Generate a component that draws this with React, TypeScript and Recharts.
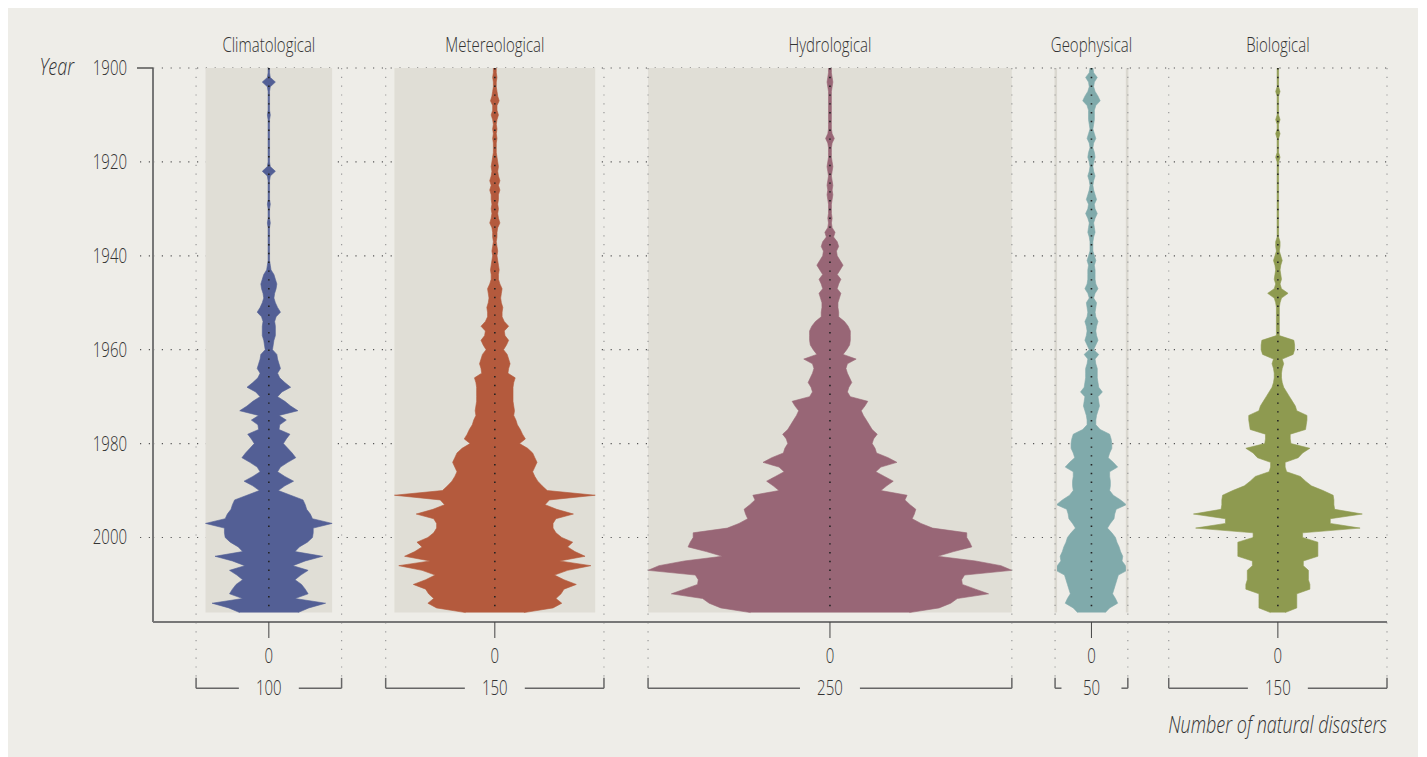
import React from 'react';
import {
    ComposedChart,
    Area,
    XAxis,
    YAxis,
    CartesianGrid,
    ReferenceLine,
    ReferenceArea,
} from 'recharts';

// number of natural disasters per year, 1900 onwards
const FIRST_YEAR = 1900;

const climatological = [
    1, 1, 2, 9, 2, 1, 1, 1, 1, 1,
    2, 1, 1, 1, 1, 1, 1, 1, 1, 1,
    1, 2, 9, 2, 1, 1, 1, 1, 1, 2,
    1, 1, 1, 2, 1, 1, 1, 1, 1, 1,
    1, 1, 2, 3, 7, 9, 11, 10, 8, 7,
    9, 12, 16, 10, 8, 9, 9, 9, 7, 6,
    5, 11, 12, 14, 16, 12, 15, 22, 30, 18,
    12, 22, 30, 40, 14, 24, 15, 14, 29, 24,
    20, 26, 32, 37, 26, 16, 12, 22, 34, 22,
    13, 30, 47, 50, 52, 57, 60, 87, 61, 61,
    60, 53, 42, 36, 74, 50, 33, 54, 44, 36,
    45, 50, 54, 36, 78, 55, 40,
];

const meteorological = [
    2, 2, 3, 2, 2, 3, 4, 6, 3, 3,
    5, 3, 2, 3, 2, 3, 2, 2, 2, 3,
    4, 5, 4, 5, 7, 5, 7, 5, 5, 4,
    5, 4, 5, 7, 4, 3, 3, 2, 3, 4,
    3, 4, 5, 6, 5, 5, 7, 10, 9, 8,
    9, 11, 10, 10, 13, 19, 13, 14, 19, 16,
    12, 17, 19, 21, 19, 18, 28, 26, 25, 25,
    25, 25, 26, 27, 26, 29, 31, 35, 38, 42,
    34, 45, 52, 55, 58, 55, 52, 55, 59, 65,
    72, 138, 75, 69, 85, 108, 84, 80, 80, 84,
    92, 107, 100, 110, 124, 89, 132, 100, 82, 95,
    112, 95, 91, 84, 92, 80, 40,
];

const hydrological = [
    2, 2, 3, 4, 3, 2, 2, 2, 2, 2,
    2, 2, 2, 2, 3, 6, 3, 2, 2, 2,
    3, 4, 3, 2, 3, 4, 3, 4, 3, 2,
    2, 2, 3, 2, 3, 7, 5, 10, 12, 9,
    10, 14, 18, 14, 10, 15, 12, 10, 15, 13,
    11, 11, 12, 12, 20, 25, 28, 28, 28, 27,
    23, 18, 36, 24, 22, 24, 27, 30, 26, 24,
    28, 52, 48, 43, 46, 50, 54, 58, 65, 60,
    58, 62, 64, 80, 92, 70, 63, 75, 87, 78,
    70, 106, 103, 110, 118, 116, 113, 125, 141, 188,
    188, 192, 195, 170, 148, 200, 235, 250, 185, 181,
    182, 200, 218, 175, 166, 150, 109,
];

const geophysical = [
    2, 3, 8, 4, 3, 5, 9, 12, 6, 4,
    4, 4, 3, 2, 4, 6, 3, 2, 4, 5,
    3, 2, 3, 5, 3, 2, 3, 5, 7, 4,
    5, 8, 5, 3, 4, 5, 3, 2, 2, 2,
    4, 6, 4, 5, 5, 5, 6, 9, 5, 3,
    7, 6, 5, 6, 9, 7, 6, 7, 9, 6,
    3, 10, 5, 6, 8, 8, 8, 9, 10, 15,
    9, 10, 11, 9, 7, 6, 6, 12, 25, 27,
    28, 28, 25, 23, 30, 36, 25, 25, 26, 26,
    25, 30, 40, 48, 34, 32, 31, 26, 22, 28,
    33, 35, 38, 40, 43, 42, 47, 49, 37, 35,
    33, 31, 29, 33, 36, 25, 19,
];

const biological = [
    1, 1, 1, 1, 1, 3, 1, 1, 1, 1,
    1, 3, 1, 1, 3, 1, 1, 1, 1, 3,
    1, 1, 1, 1, 1, 1, 1, 1, 1, 1,
    1, 1, 1, 1, 1, 1, 1, 3, 3, 2,
    4, 6, 4, 3, 4, 5, 3, 5, 14, 5,
    3, 2, 2, 2, 2, 2, 2, 2, 22, 23,
    23, 21, 6, 8, 6, 5, 5, 6, 8, 12,
    16, 20, 24, 26, 40, 40, 39, 38, 17, 17,
    18, 44, 34, 28, 10, 10, 12, 31, 38, 46,
    62, 76, 77, 77, 78, 116, 72, 72, 113, 34,
    34, 55, 55, 55, 55, 35, 35, 42, 42, 42,
    44, 44, 26, 26, 26, 26, 10,
];

const categories = ['Climatological', 'Metereological', 'Hydrological', 'Geophysical', 'Biological'];
const series = [climatological, meteorological, hydrological, geophysical, biological];
const scaleWidths = [100, 150, 250, 50, 150];
const yearTicks = [1900, 1920, 1940, 1960, 1980, 2000];

// layout of the panels on the shared count axis
const panelCenters = [79.6, 234.9, 465.2, 644.9, 773];
const colors = ['#535F95', '#B45A3D', '#986676', '#80AAAB', '#8E9A50'];
const backdrop = ['fill', 'fill', 'fill', 'outline', 'none'];
const X_MAX = 848;
const LAST_YEAR = FIRST_YEAR + climatological.length - 1;
const FONT = "'Open Sans', 'Noto Sans', sans-serif";
const TEXT = '#333';
const SQUEEZE = 0.75; // condensed look

const data = climatological.map((_, i) => {
    const row: any = { year: FIRST_YEAR + i };
    series.forEach((vals, s) => {
        row['s' + s] = [panelCenters[s] - vals[i] / 2, panelCenters[s] + vals[i] / 2];
    });
    return row;
});

const Narrow = ({ x, y, anchor = 'middle', size = 20, italic = false, children }: any) => (
    <text
        transform={`translate(${x} ${y}) scale(${SQUEEZE} 1)`}
        textAnchor={anchor}
        fontFamily={FONT}
        fontWeight={300}
        fontStyle={italic ? 'italic' : 'normal'}
        fontSize={size}
        fill={TEXT}
    >
        {children}
    </text>
);

const YearTick = ({ x, y, payload }: any) => (
    <g>
        {payload.value === FIRST_YEAR ? (
            <>
                <line x1={x - 16} x2={x} y1={y} y2={y} stroke="#555" strokeWidth={1.5} />
                <Narrow x={x - 79} y={y + 7} anchor="end" size={24} italic>Year</Narrow>
            </>
        ) : (
            <line x1={x - 13} x2={x} y1={y} y2={y} stroke="#555" strokeWidth={1.2} strokeDasharray="1.2 7.6" />
        )}
        <Narrow x={x - 26} y={y + 7} anchor="end">{payload.value}</Narrow>
    </g>
);

const ZeroTick = ({ x, y, index }: any) => (
    <g>
        <Narrow x={x} y={y + 23}>0</Narrow>
        <Narrow x={x} y={y + 55}>{scaleWidths[index]}</Narrow>
    </g>
);

const AxisTitle = ({ viewBox }: any) => (
    <Narrow x={viewBox.x + viewBox.width} y={viewBox.y + 111} anchor="end" size={24} italic>
        Number of natural disasters
    </Narrow>
);

const titleLabel = (s: number) => ({ viewBox }: any) => (
    <Narrow x={viewBox.x + viewBox.width / 2} y={viewBox.y - 16}>{categories[s]}</Narrow>
);

const BRACKET_Y = 2032.1;
const BRACKET_TOP = 2029.9;
const GAP = 20.6;

export default function App() {
    return (
        <div style={{ position: 'fixed', left: 8, top: 8, width: 1410, height: 749, background: '#EEEDE8' }}>
            <ComposedChart
                layout="vertical"
                width={1410}
                height={749}
                data={data}
                margin={{ top: 60, right: 31, bottom: 0, left: 85 }}
            >
                <CartesianGrid vertical={false} stroke="#555" strokeWidth={1.2} strokeDasharray="1.2 7.6" />
                <XAxis
                    type="number"
                    domain={[0, X_MAX]}
                    allowDataOverflow
                    ticks={panelCenters}
                    interval={0}
                    height={135}
                    axisLine={{ stroke: '#777', strokeWidth: 2 }}
                    tickLine={{ stroke: '#444' }}
                    tickSize={16}
                    tick={<ZeroTick />}
                    label={AxisTitle}
                />
                <YAxis
                    type="number"
                    dataKey="year"
                    domain={[1900, 2018]}
                    allowDataOverflow
                    ticks={yearTicks}
                    interval={0}
                    width={60}
                    axisLine={{ stroke: '#777', strokeWidth: 2 }}
                    tickLine={false}
                    tickSize={0}
                    tickMargin={0}
                    tick={<YearTick />}
                />
                {series.map((vals, s) => {
                    if (backdrop[s] !== 'fill') return null;
                    const half = Math.max(...vals) / 2;
                    return (
                        <ReferenceArea
                            key={'bg' + s}
                            x1={panelCenters[s] - half}
                            x2={panelCenters[s] + half}
                            y1={FIRST_YEAR}
                            y2={LAST_YEAR}
                            fill="#E0DED6"
                            fillOpacity={1}
                            stroke="none"
                            ifOverflow="visible"
                        />
                    );
                })}
                {series.map((vals, s) => {
                    if (backdrop[s] !== 'outline') return null;
                    const half = Math.max(...vals) / 2;
                    return [-half, half].map((h, j) => (
                        <ReferenceLine
                            key={'ol' + s + j}
                            segment={[{ x: panelCenters[s] + h, y: FIRST_YEAR }, { x: panelCenters[s] + h, y: LAST_YEAR }]}
                            stroke="#DAD8D0"
                            strokeWidth={2.5}
                            ifOverflow="visible"
                        />
                    ));
                })}
                {series.map((_, s) => (
                    <Area
                        key={'a' + s}
                        dataKey={'s' + s}
                        type="linear"
                        fill={colors[s]}
                        fillOpacity={1}
                        stroke={colors[s]}
                        strokeWidth={0.6}
                        dot={false}
                        activeDot={false}
                        isAnimationActive={false}
                    />
                ))}
                {panelCenters.map((c, s) => {
                    const left = c - scaleWidths[s] / 2;
                    const right = c + scaleWidths[s] / 2;
                    const dotted = { stroke: '#999', strokeWidth: 1.2, strokeDasharray: '1.2 7.6', ifOverflow: 'visible' as const };
                    const solid = { stroke: '#666', strokeWidth: 1.5, ifOverflow: 'visible' as const };
                    return [
                        <ReferenceLine key={'el' + s} segment={[{ x: left, y: FIRST_YEAR }, { x: left, y: BRACKET_TOP }]} {...dotted} />,
                        <ReferenceLine key={'er' + s} segment={[{ x: right, y: FIRST_YEAR }, { x: right, y: BRACKET_TOP }]} {...dotted} />,
                        <ReferenceLine key={'lv' + s} segment={[{ x: left, y: BRACKET_TOP }, { x: left, y: BRACKET_Y }]} {...solid} />,
                        <ReferenceLine key={'lh' + s} segment={[{ x: left, y: BRACKET_Y }, { x: c - GAP, y: BRACKET_Y }]} {...solid} />,
                        <ReferenceLine key={'rh' + s} segment={[{ x: c + GAP, y: BRACKET_Y }, { x: right, y: BRACKET_Y }]} {...solid} />,
                        <ReferenceLine key={'rv' + s} segment={[{ x: right, y: BRACKET_TOP }, { x: right, y: BRACKET_Y }]} {...solid} />,
                        <ReferenceLine key={'c' + s} segment={[{ x: c, y: FIRST_YEAR }, { x: c, y: LAST_YEAR }]}
                            stroke="#222" strokeWidth={1.6} strokeDasharray="1.4 7.4" ifOverflow="visible"
                            label={titleLabel(s)} />,
                    ];
                })}
            </ComposedChart>
        </div>
    );
}
